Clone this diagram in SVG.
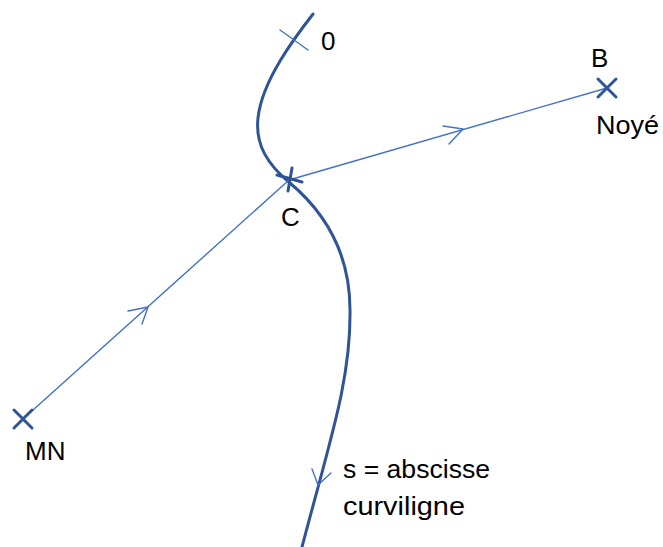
<svg xmlns="http://www.w3.org/2000/svg" width="663" height="547" viewBox="0 0 663 547">
<style>
.thick{fill:none;stroke:#2F5597;stroke-width:3;stroke-linecap:round}
.thin{fill:none;stroke:#4472C4;stroke-width:1.4;stroke-linecap:round}
text{font-family:"Liberation Sans",Arial,sans-serif;font-size:26px;fill:#000}
</style>
<rect width="663" height="547" fill="#fff"/>
<g id="connectors">
<path class="thick" d="M313,14 C296,36 262,80 258,118 C255,145 268,165 290,183 C322,210 350,250 350,310 C351,380 330,440 302,547"/>
<path class="thin" d="M318,485 L312,469 M318,485 L331,473"/>
<line class="thin" x1="23" y1="419" x2="289" y2="180"/>
<path class="thin" d="M148,307 L128,311 M148,307 L142,324"/>
<line class="thin" x1="289" y1="180" x2="607" y2="88"/>
<path class="thin" d="M463,129 L443,126 M463,129 L449,144"/>
</g>
<g id="node-0">
<line class="thin" x1="280" y1="30" x2="308" y2="50"/>
<text x="321" y="50">0</text>
</g>
<g id="node-C">
<path class="thick" d="M277,175 L302,182 M292,168 L288,191"/>
<text x="281" y="226">C</text>
</g>
<g id="node-B">
<path class="thick" d="M598,79 L616,97 M598,97 L616,79"/>
<text x="591" y="67">B</text>
<text x="596" y="134" textLength="63" lengthAdjust="spacingAndGlyphs">Noyé</text>
</g>
<g id="node-MN">
<path class="thick" d="M14,410 L32,428 M14,428 L32,410"/>
<text x="25" y="460">MN</text>
</g>
<g id="label-s">
<text x="343" y="478" textLength="147" lengthAdjust="spacingAndGlyphs">s = abscisse</text>
<text x="343" y="515" textLength="122" lengthAdjust="spacingAndGlyphs">curviligne</text>
</g>
</svg>
